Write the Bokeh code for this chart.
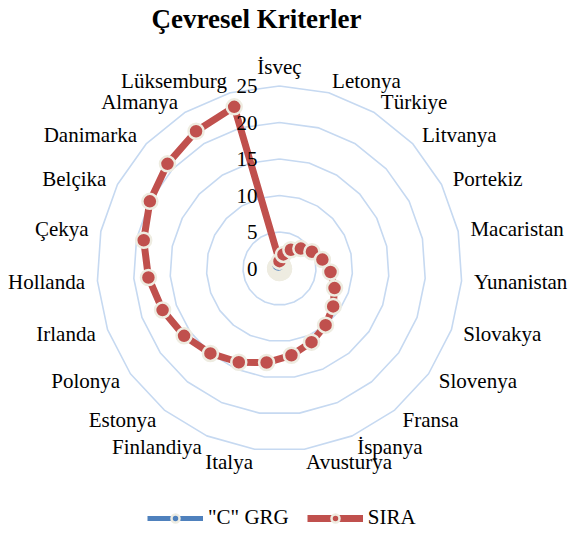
import numpy as np
from bokeh.plotting import figure
from bokeh.models import Range1d, Legend, LegendItem, ColumnDataSource, Label
from bokeh.embed import file_html
from bokeh.resources import INLINE
from bokeh.core.properties import value

title_text = "Çevresel Kriterler"
categories = ["İsveç", "Letonya", "Türkiye", "Litvanya", "Portekiz", "Macaristan",
              "Yunanistan", "Slovakya", "Slovenya", "Fransa", "İspanya", "Avusturya",
              "Italya", "Finlandiya", "Estonya", "Polonya", "Irlanda", "Hollanda",
              "Çekya", "Belçika", "Danimarka", "Almanya", "Lüksemburg"]
sira = [1, 2, 3, 4, 5, 6, 7, 8, 9, 10, 11, 12, 13, 14, 15, 16, 17, 18, 19, 20, 21, 22, 23]
grg = [0.52, 0.55, 0.50, 0.57, 0.54, 0.51, 0.56, 0.53, 0.58, 0.55, 0.52, 0.54,
       0.57, 0.53, 0.51, 0.56, 0.54, 0.52, 0.55, 0.53, 0.50, 0.54, 0.56]
ticks = [0, 5, 10, 15, 20, 25]
series_names = ['"C" GRG', "SIRA"]

BLUE = "#4F81BD"
RED = "#C0504D"
BEIGE = "#EEECE1"
GRID = "#C6D9F1"
FONT = "Liberation Serif"

W, H = 569, 533
K = 7.3            # px per unit
CX, CY = 279, 268  # centre in canvas px

p = figure(width=W, height=H, output_backend="svg", toolbar_location=None,
           x_range=Range1d(-CX / K, (W - CX) / K),
           y_range=Range1d(-(H - CY) / K, CY / K),
           min_border=0, outline_line_color=None)
p.axis.visible = False
p.grid.visible = False
p.background_fill_color = "white"

N = len(categories)
theta = np.arange(N) / N * 2 * np.pi
sx, cy = np.sin(theta), np.cos(theta)

# grid rings
xs, ys = [], []
for t in ticks[1:]:
    xs.append(list(np.append(t * sx, t * sx[0])))
    ys.append(list(np.append(t * cy, t * cy[0])))
p.multi_line(xs, ys, line_color=GRID, line_width=1.6)

def series(vals, color, lw):
    v = np.array(vals, dtype=float)
    x = np.append(v * sx, v[0] * sx[0])
    y = np.append(v * cy, v[0] * cy[0])
    ln = p.line(x, y, line_color=color, line_width=lw, line_join="round")
    sc = p.scatter(v * sx, v * cy, size=15, fill_color=color,
                   line_color=BEIGE, line_width=2.5)
    return ln, sc

bl, bs = series(grg, BLUE, 5)
rl, rs = series(sira, RED, 7)

# category labels
R_LAB = 195 / K
lx, ly, al, bl_ = [], [], [], []
for i, c in enumerate(categories):
    s, co = sx[i], cy[i]
    if abs(s) < 0.05 and co > 0:
        lx.append(0); ly.append(190 / K); al.append("center"); bl_.append("bottom")
    else:
        lx.append(R_LAB * s); ly.append(R_LAB * co)
        al.append("left" if s > 0 else "right"); bl_.append("middle")
src = ColumnDataSource(dict(x=lx, y=ly, t=categories, a=al, b=bl_))
p.text("x", "y", text="t", text_align="a", text_baseline="b", source=src,
       text_font=value(FONT), text_font_size="21px", text_color="black")

# radial tick labels
p.text([-22 / K] * len(ticks), ticks, text=[str(t) for t in ticks],
       text_align="right", text_baseline="middle",
       text_font=value(FONT), text_font_size="21px", text_color="black")

# title
p.add_layout(Label(x=(256 - CX) / K, y=(CY - 18) / K, text=title_text,
                   text_align="center", text_baseline="middle",
                   text_font=FONT, text_font_size="27px", text_font_style="bold",
                   text_color="black"))

legend = Legend(items=[LegendItem(label=series_names[0], renderers=[bl, bs]),
                       LegendItem(label=series_names[1], renderers=[rl, rs])],
                orientation="horizontal", location=(147, 3),
                glyph_width=56, glyph_height=20, label_standoff=5, spacing=18,
                padding=0, margin=0, border_line_color=None,
                background_fill_alpha=0, label_text_color="black",
                label_text_font=FONT, label_text_font_size="21px")
p.add_layout(legend, "center")

open("out.html", "w").write(file_html(p, INLINE))
